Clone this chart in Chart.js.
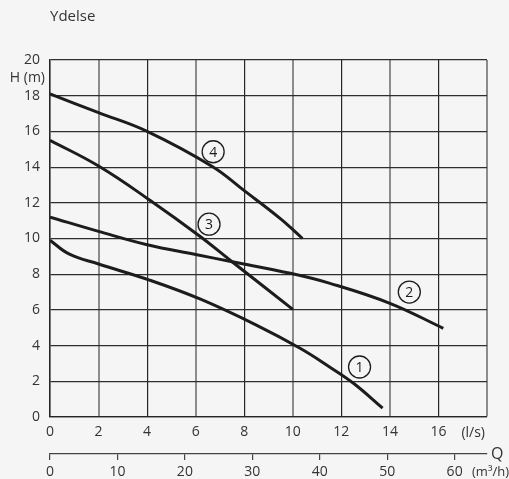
<!DOCTYPE html>
<html>
<head>
<meta charset="utf-8">
<script src="https://cdn.jsdelivr.net/npm/chart.js@4"></script>
<style>
  html, body { margin: 0; padding: 0; background: #f5f5f5; }
  canvas { display: block; }
</style>
</head>
<body>
<canvas id="chart" width="509" height="479"></canvas>
<script>
// Pumpekurver, Q i l/s og H i m
const q1 = [0, 0.8, 2, 4.1, 6.2, 8.5, 10.3, 11.5, 12.5, 13.7];
const h1 = [9.9, 9.12, 8.57, 7.67, 6.6, 5.15, 3.85, 2.82, 1.89, 0.5];

const q2 = [0, 2, 4, 6, 7.5, 9.9, 11.5, 14, 16.2];
const h2 = [11.2, 10.4, 9.65, 9.1, 8.7, 8.05, 7.5, 6.37, 4.97];

const q3 = [0, 2, 4.1, 6.2, 7.5, 10];
const h3 = [15.5, 14.06, 12.16, 10.1, 8.7, 6.03];

const q4 = [0, 2, 4, 6.7, 8, 9.5, 10.4];
const h4 = [18.1, 17.05, 16.0, 14.02, 12.68, 11.1, 10.0];

// nummererede cirkler ved kurverne
const labelQ = [12.75, 14.8, 6.55, 6.72];
const labelH = [2.8, 7.0, 10.8, 14.86];
const labelText = ['1', '2', '3', '4'];

const lsTicks = [0, 2, 4, 6, 8, 10, 12, 14, 16];
const m3hTicks = [0, 10, 20, 30, 40, 50, 60];

const FONT = '"Open Sans", "Noto Sans", sans-serif';
const INK = '#1c1c1c';

function pts(xs, ys) {
    return xs.map((x, i) => ({ x: x, y: ys[i] }));
}

function curve(xs, ys) {
    return {
        type: 'line',
        data: pts(xs, ys),
        borderColor: INK,
        borderWidth: 3,
        pointRadius: 0,
        fill: false,
        tension: 0.4,
        xAxisID: 'x',
        yAxisID: 'y'
    };
}

const textPlugin = {
    id: 'texts',
    afterDraw(chart) {
        const c = chart.ctx;
        const area = chart.chartArea;
        const xs = chart.scales.x;
        const ys = chart.scales.y;
        const x2 = chart.scales.x2;
        c.save();
        c.fillStyle = '#333';
        c.textBaseline = 'middle';

        c.textAlign = 'left';
        c.font = '15px ' + FONT;
        c.fillText('Ydelse', 50, 17);

        c.font = '14px ' + FONT;
        c.textAlign = 'right';
        c.fillText('H (m)', 45, 78);
        c.fillText('(l/s)', area.right - 2, 433);

        c.font = '13px ' + FONT;
        c.fillText('(m³/h)', 509, 472);

        c.textAlign = 'left';
        c.font = '16px ' + FONT;
        c.fillText('Q', area.right + 4, x2.top);

        // cirkelnumre
        c.fillStyle = INK;
        c.textAlign = 'center';
        c.font = '14px ' + FONT;
        labelText.forEach((t, i) => {
            c.fillText(t, xs.getPixelForValue(labelQ[i]), ys.getPixelForValue(labelH[i]) + 1);
        });
        c.restore();
    }
};

new Chart(document.getElementById('chart'), {
    data: {
        datasets: [
            curve(q1, h1),
            curve(q2, h2),
            curve(q3, h3),
            curve(q4, h4),
            {
                type: 'scatter',
                data: pts(labelQ, labelH),
                pointRadius: 11,
                pointBorderWidth: 1.3,
                pointBorderColor: INK,
                pointBackgroundColor: 'rgba(0,0,0,0)',
                xAxisID: 'x',
                yAxisID: 'y'
            }
        ]
    },
    options: {
        responsive: false,
        animation: false,
        layout: { padding: { left: 0, top: 60, right: 22, bottom: 0 } },
        plugins: {
            legend: { display: false },
            tooltip: { enabled: false }
        },
        scales: {
            x: {
                type: 'linear',
                position: 'bottom',
                min: 0,
                max: 18,
                ticks: {
                    stepSize: 2,
                    color: '#333',
                    font: { family: FONT, size: 14 },
                    padding: 7,
                    maxRotation: 0,
                    callback: (v) => lsTicks.includes(v) ? String(v) : ''
                },
                grid: {
                    drawTicks: false,
                    color: (ctx) => (ctx.tick && ctx.tick.value % 4 === 2) ? '#8c8c8c' : '#262626',
                    lineWidth: (ctx) => (ctx.tick && ctx.tick.value % 4 === 2) ? 2 : 1.2
                },
                border: { display: true, color: '#262626', width: 1.2 },
                afterFit: (s) => { s.height = 37; }
            },
            x2: {
                type: 'linear',
                position: 'bottom',
                min: 0,
                max: 18 * 3.6,
                afterBuildTicks: (s) => { s.ticks = m3hTicks.map(v => ({ value: v })); },
                ticks: {
                    color: '#333',
                    font: { family: FONT, size: 14 },
                    padding: 4,
                    maxRotation: 0
                },
                grid: {
                    drawOnChartArea: false,
                    drawTicks: true,
                    tickLength: 6,
                    color: '#444',
                    lineWidth: 1.2
                },
                border: { display: true, color: '#444', width: 1.2 },
                afterFit: (s) => { s.height = 25; }
            },
            y: {
                type: 'linear',
                min: 0,
                max: 20,
                ticks: {
                    stepSize: 2,
                    color: '#333',
                    font: { family: FONT, size: 14 },
                    padding: 10
                },
                grid: {
                    drawTicks: false,
                    color: '#2e2e2e',
                    lineWidth: 1.2
                },
                border: { display: true, color: '#262626', width: 1.5 },
                afterFit: (s) => { s.width = 50; }
            }
        }
    },
    plugins: [textPlugin]
});
</script>
</body>
</html>
